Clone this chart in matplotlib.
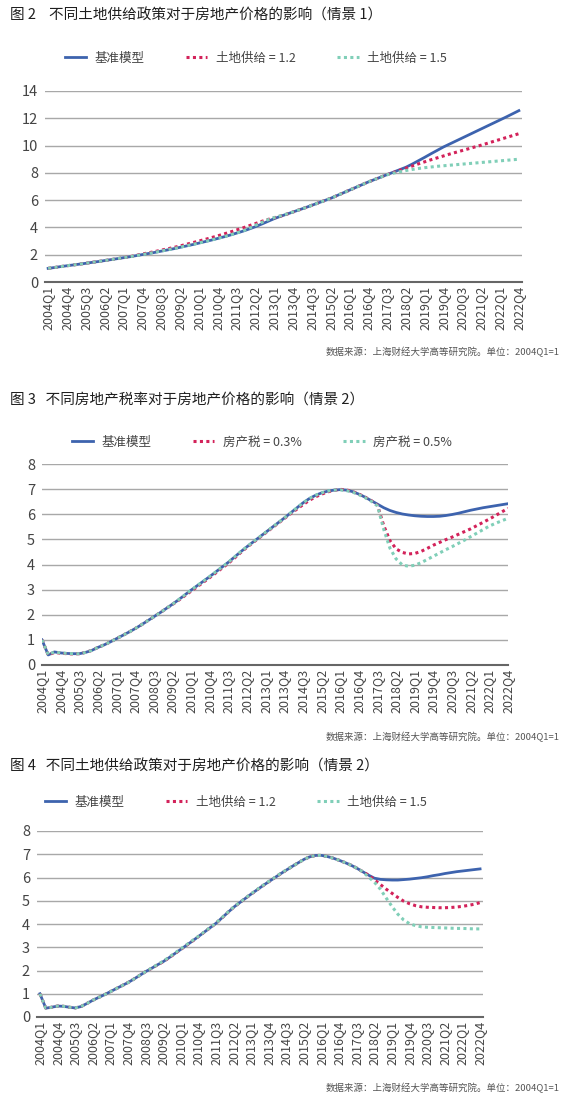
import matplotlib
matplotlib.use('Agg')
import matplotlib.pyplot as plt

plt.rcParams['font.family'] = ['Noto Sans CJK SC', 'DejaVu Sans']

# quarters 2004Q1 .. 2022Q4, labelled every third quarter
quarters = ['%dQ%d' % (y, q) for y in range(2004, 2023) for q in range(1, 5)]
tick_idx = list(range(0, 76, 3))

# 图2: 情景1, land supply
base_1 = [1.00, 1.06, 1.13, 1.19, 1.25, 1.31, 1.37, 1.44, 1.50, 1.57,
          1.64, 1.71, 1.78, 1.85, 1.93, 2.01, 2.09, 2.17, 2.26, 2.35,
          2.44, 2.54, 2.64, 2.74, 2.85, 2.96, 3.07, 3.19, 3.31, 3.44,
          3.58, 3.72, 3.88, 4.05, 4.24, 4.44, 4.64, 4.81, 4.97, 5.13,
          5.29, 5.45, 5.62, 5.79, 5.96, 6.13, 6.33, 6.53, 6.73, 6.93,
          7.13, 7.33, 7.51, 7.69, 7.87, 8.05, 8.23, 8.41, 8.64, 8.89,
          9.14, 9.40, 9.65, 9.90, 10.12, 10.34, 10.56, 10.78, 11.00, 11.22,
          11.44, 11.66, 11.88, 12.10, 12.33, 12.56]
land12_1 = [1.00, 1.06, 1.13, 1.19, 1.25, 1.31, 1.37, 1.44, 1.50, 1.57,
            1.64, 1.71, 1.78, 1.86, 1.95, 2.05, 2.14, 2.23, 2.33, 2.43,
            2.53, 2.64, 2.76, 2.88, 3.00, 3.12, 3.25, 3.38, 3.52, 3.66,
            3.81, 3.96, 4.12, 4.28, 4.44, 4.58, 4.70, 4.83, 4.97, 5.13,
            5.29, 5.45, 5.62, 5.79, 5.96, 6.13, 6.33, 6.53, 6.73, 6.93,
            7.13, 7.33, 7.51, 7.69, 7.87, 8.02, 8.18, 8.34, 8.50, 8.66,
            8.81, 8.96, 9.10, 9.24, 9.38, 9.51, 9.64, 9.77, 9.90, 10.03,
            10.17, 10.31, 10.45, 10.59, 10.73, 10.87]
land15_1 = [1.00, 1.06, 1.13, 1.19, 1.25, 1.31, 1.37, 1.44, 1.50, 1.57,
            1.64, 1.71, 1.78, 1.85, 1.93, 2.01, 2.09, 2.18, 2.27, 2.36,
            2.45, 2.55, 2.65, 2.75, 2.86, 2.97, 3.08, 3.20, 3.32, 3.45,
            3.59, 3.74, 3.93, 4.15, 4.36, 4.56, 4.72, 4.85, 4.98, 5.13,
            5.29, 5.45, 5.62, 5.79, 5.96, 6.13, 6.33, 6.53, 6.73, 6.93,
            7.13, 7.33, 7.51, 7.69, 7.86, 7.98, 8.08, 8.17, 8.25, 8.32,
            8.38, 8.43, 8.48, 8.52, 8.56, 8.60, 8.64, 8.68, 8.72, 8.76,
            8.80, 8.84, 8.88, 8.92, 8.96, 9.00]

# 图3: 情景2, property tax
base_2 = [1.00, 0.40, 0.52, 0.48, 0.46, 0.45, 0.45, 0.50, 0.58, 0.70,
          0.80, 0.92, 1.05, 1.18, 1.31, 1.45, 1.60, 1.76, 1.92, 2.08,
          2.25, 2.42, 2.60, 2.79, 2.98, 3.16, 3.34, 3.52, 3.71, 3.90,
          4.09, 4.30, 4.51, 4.71, 4.90, 5.09, 5.28, 5.47, 5.66, 5.85,
          6.05, 6.25, 6.45, 6.62, 6.75, 6.85, 6.92, 6.96, 6.98, 6.96,
          6.90, 6.80, 6.68, 6.54, 6.40, 6.26, 6.15, 6.07, 6.01, 5.97,
          5.94, 5.92, 5.91, 5.91, 5.92, 5.95, 5.99, 6.04, 6.10, 6.16,
          6.21, 6.26, 6.30, 6.34, 6.38, 6.42]
tax03_2 = [1.00, 0.40, 0.50, 0.47, 0.45, 0.44, 0.45, 0.50, 0.58, 0.70,
           0.80, 0.92, 1.05, 1.18, 1.31, 1.45, 1.60, 1.76, 1.92, 2.08,
           2.25, 2.41, 2.58, 2.76, 2.94, 3.12, 3.30, 3.48, 3.67, 3.86,
           4.05, 4.26, 4.48, 4.69, 4.88, 5.07, 5.26, 5.45, 5.64, 5.83,
           6.02, 6.20, 6.38, 6.55, 6.69, 6.80, 6.89, 6.95, 6.99, 6.97,
           6.90, 6.80, 6.68, 6.54, 6.35, 5.55, 4.95, 4.62, 4.48, 4.42,
           4.44, 4.52, 4.64, 4.77, 4.88, 4.99, 5.09, 5.20, 5.31, 5.42,
           5.55, 5.68, 5.81, 5.95, 6.09, 6.24]
tax05_2 = [1.00, 0.41, 0.52, 0.48, 0.46, 0.45, 0.45, 0.50, 0.58, 0.70,
           0.80, 0.92, 1.05, 1.18, 1.31, 1.45, 1.60, 1.76, 1.92, 2.08,
           2.25, 2.42, 2.60, 2.79, 2.98, 3.16, 3.34, 3.52, 3.71, 3.90,
           4.09, 4.30, 4.51, 4.71, 4.90, 5.09, 5.28, 5.47, 5.66, 5.85,
           6.05, 6.25, 6.45, 6.62, 6.75, 6.85, 6.92, 6.96, 6.97, 6.94,
           6.88, 6.78, 6.66, 6.52, 6.33, 5.40, 4.65, 4.22, 3.98, 3.93,
           3.97, 4.07, 4.20, 4.33, 4.46, 4.59, 4.71, 4.84, 4.97, 5.11,
           5.25, 5.39, 5.53, 5.64, 5.74, 5.84]

# 图4: 情景2, land supply
base_3 = [1.00, 0.38, 0.42, 0.47, 0.46, 0.42, 0.39, 0.45, 0.58, 0.72,
          0.84, 0.96, 1.09, 1.22, 1.35, 1.48, 1.63, 1.79, 1.95, 2.09,
          2.24, 2.38, 2.55, 2.73, 2.91, 3.09, 3.27, 3.46, 3.65, 3.84,
          4.03, 4.26, 4.49, 4.72, 4.91, 5.10, 5.29, 5.47, 5.65, 5.82,
          5.99, 6.16, 6.32, 6.48, 6.63, 6.78, 6.89, 6.95, 6.95, 6.90,
          6.83, 6.74, 6.64, 6.53, 6.40, 6.25, 6.10, 5.97, 5.92, 5.90,
          5.89, 5.89, 5.91, 5.93, 5.96, 5.99, 6.03, 6.08, 6.12, 6.17,
          6.21, 6.25, 6.28, 6.31, 6.34, 6.37]
land12_3 = [1.00, 0.38, 0.42, 0.47, 0.46, 0.42, 0.39, 0.45, 0.58, 0.72,
            0.84, 0.96, 1.09, 1.22, 1.35, 1.48, 1.63, 1.79, 1.95, 2.09,
            2.24, 2.38, 2.55, 2.73, 2.91, 3.09, 3.27, 3.46, 3.65, 3.84,
            4.03, 4.26, 4.49, 4.72, 4.91, 5.10, 5.29, 5.47, 5.65, 5.82,
            5.99, 6.16, 6.32, 6.48, 6.63, 6.78, 6.89, 6.95, 6.95, 6.90,
            6.83, 6.74, 6.64, 6.53, 6.40, 6.25, 6.10, 5.90, 5.70, 5.50,
            5.32, 5.14, 4.98, 4.87, 4.79, 4.74, 4.72, 4.71, 4.70, 4.70,
            4.71, 4.73, 4.76, 4.80, 4.85, 4.92]
land15_3 = [1.00, 0.38, 0.42, 0.47, 0.46, 0.42, 0.39, 0.45, 0.58, 0.72,
            0.84, 0.96, 1.09, 1.22, 1.35, 1.48, 1.63, 1.79, 1.95, 2.10,
            2.25, 2.40, 2.57, 2.75, 2.93, 3.11, 3.29, 3.47, 3.66, 3.85,
            4.04, 4.27, 4.50, 4.73, 4.92, 5.11, 5.30, 5.48, 5.66, 5.83,
            6.00, 6.17, 6.33, 6.48, 6.63, 6.78, 6.89, 6.95, 6.95, 6.90,
            6.83, 6.74, 6.64, 6.53, 6.40, 6.25, 6.02, 5.80, 5.50, 5.12,
            4.75, 4.42, 4.17, 4.01, 3.93, 3.88, 3.86, 3.85, 3.84, 3.83,
            3.82, 3.81, 3.81, 3.80, 3.79, 3.79]

BLUE = '#3d63ae'
RED = '#d3225a'
TEAL = '#80cfb8'
W, H = 582, 1107
src = '数据来源：上海财经大学高等研究院。单位：2004Q1=1'

fig = plt.figure(figsize=(W / 100, H / 100), dpi=100)


def panel(box, ylim, yticks, xlim, series, labels, title, title_y, leg_xy, src_y):
    l, r, t, b = box
    ax = fig.add_axes([l / W, 1 - b / H, (r - l) / W, (b - t) / H])
    x = list(range(len(quarters)))
    ax.plot(x, series[0], color=BLUE, lw=2.0, label=labels[0], zorder=3)
    ax.plot(x, series[1], color=RED, lw=2.2, ls=(0, (1, 1.1)), label=labels[1], zorder=4)
    ax.plot(x, series[2], color=TEAL, lw=2.2, ls=(0, (1, 1.1)), label=labels[2], zorder=5)
    ax.set_xlim(*xlim)
    ax.set_ylim(*ylim)
    ax.set_yticks(yticks)
    ax.set_xticks(tick_idx)
    ax.set_xticklabels([quarters[i] for i in tick_idx], rotation=90)
    for lab in ax.get_xticklabels() + ax.get_yticklabels():
        lab.set_fontweight('light')
    ax.grid(axis='y', color='#a8a8a8', lw=1.0)
    ax.set_axisbelow(True)
    for s in ['top', 'right', 'left']:
        ax.spines[s].set_visible(False)
    ax.spines['bottom'].set_color('#666666')
    ax.spines['bottom'].set_linewidth(1.5)
    ax.tick_params(axis='both', length=0, colors='#444444')
    ax.tick_params(axis='y', labelsize=10.5, pad=5)
    ax.tick_params(axis='x', labelsize=9, pad=3)
    leg = ax.legend(loc='center', bbox_to_anchor=(leg_xy[0] / W, 1 - leg_xy[1] / H),
                    bbox_transform=fig.transFigure, ncol=3, frameon=False,
                    fontsize=9, handlelength=1.7, columnspacing=3.3,
                    handletextpad=0.7, labelcolor='#444444')
    for tx in leg.get_texts():
        tx.set_fontweight('light')
    fig.text(10 / W, 1 - title_y / H, title, fontsize=10.5, fontweight='medium',
             color='#1e1e1e', va='center', ha='left')
    fig.text(560 / W, 1 - src_y / H, src, fontsize=6.8, color='#555555',
             va='center', ha='right')


panel((45, 522, 91, 282), (0, 14), range(0, 15, 2), (-0.5, 75.5),
      [base_1, land12_1, land15_1], ['基准模型', '土地供给 = 1.2', '土地供给 = 1.5'],
      '图 2    不同土地供给政策对于房地产价格的影响（情景 1）', 16, (256, 58), 352)
panel((42, 508, 464, 665), (0, 8), range(0, 9), (0, 75),
      [base_2, tax03_2, tax05_2], ['基准模型', '房产税 = 0.3%', '房产税 = 0.5%'],
      '图 3   不同房地产税率对于房地产价格的影响（情景 2）', 400, (262, 442), 737)
panel((37, 483, 831, 1017), (0, 8), range(0, 9), (-0.5, 75.5),
      [base_3, land12_3, land15_3], ['基准模型', '土地供给 = 1.2', '土地供给 = 1.5'],
      '图 4   不同土地供给政策对于房地产价格的影响（情景 2）', 767, (236, 802), 1088)

fig.savefig('out.png', dpi=100, facecolor='white')
